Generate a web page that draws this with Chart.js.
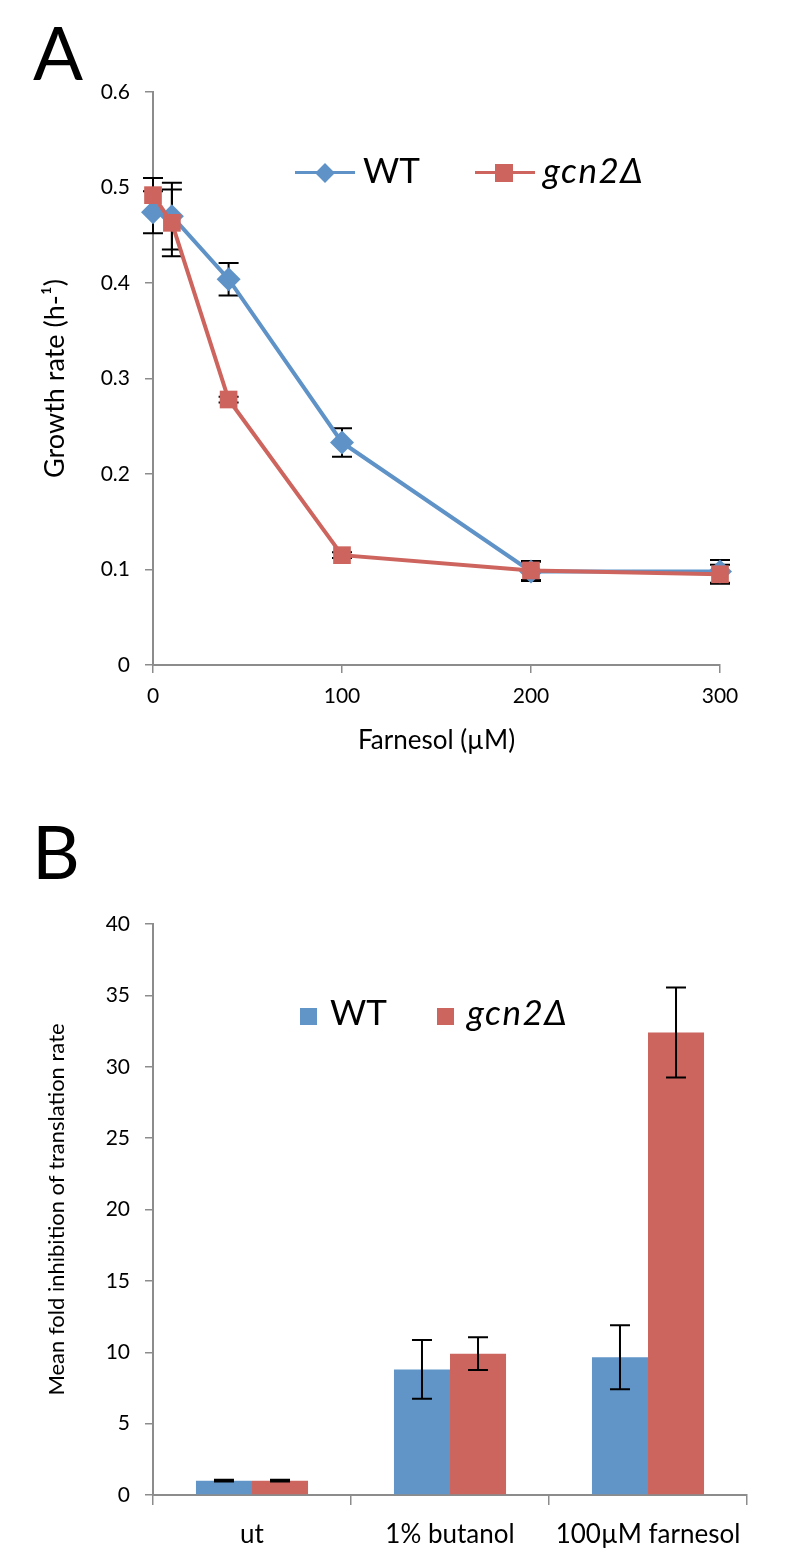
<!DOCTYPE html>
<html>
<head>
<meta charset="utf-8">
<script src="https://cdn.jsdelivr.net/npm/chart.js@4"></script>
<style>
  body { margin: 0; background: #fff; font-family: Lato, sans-serif; }
  #page { position: relative; width: 800px; height: 1567px; overflow: hidden; }
  .abs { position: absolute; line-height: 1; white-space: nowrap; color: #000; }
  .panel { font-size: 74px; }
  .leg { font-size: 35px; }
  .it { font-style: italic; letter-spacing: 1.5px; }
</style>
</head>
<body>
<div id="page">
  <canvas id="chartA" width="800" height="785" class="abs" style="left:0;top:0"></canvas>
  <canvas id="chartB" width="800" height="782" class="abs" style="left:0;top:785px"></canvas>

  <div class="abs panel" style="left:33px;top:15px">A</div>
  <div class="abs panel" style="left:32px;top:814px">B</div>

  <!-- legend A -->
  <div class="abs" style="left:295px;top:171px;width:60px;height:3px;background:#5f93c8"></div>
  <div class="abs" style="left:318px;top:166px;width:14px;height:14px;background:#5f93c8;transform:rotate(45deg)"></div>
  <div class="abs leg" style="left:363px;top:152px">WT</div>
  <div class="abs" style="left:475px;top:171px;width:60px;height:3px;background:#cd655e"></div>
  <div class="abs" style="left:495px;top:164px;width:18px;height:18px;background:#cd655e"></div>
  <div class="abs leg it" style="left:543px;top:152px">gcn2Δ</div>

  <!-- legend B -->
  <div class="abs" style="left:300px;top:1008px;width:17px;height:17px;background:#6195c8"></div>
  <div class="abs leg" style="left:330px;top:994px">WT</div>
  <div class="abs" style="left:437px;top:1008px;width:17px;height:17px;background:#cc655e"></div>
  <div class="abs leg it" style="left:467px;top:994px">gcn2Δ</div>
</div>
<script>
// panel A: growth rate vs farnesol
const farnesolDoses = [0, 10, 40, 100, 200, 300];
const growthWT = [0.474, 0.470, 0.404, 0.233, 0.098, 0.098];
const growthWTErr = [0.022, 0.035, 0.017, 0.015, 0.010, 0.012];
const growthGcn2 = [0.492, 0.463, 0.278, 0.115, 0.099, 0.095];
const growthGcn2Err = [0.018, 0.035, 0.003, 0.003, 0.010, 0.010];
const growthTicks = [0, 0.1, 0.2, 0.3, 0.4, 0.5, 0.6];

// panel B: translation inhibition
const treatments = ['ut', '1% butanol', '100µM farnesol'];
const inhibWT = [1.0, 8.8, 9.65];
const inhibWTErr = [0.06, 2.05, 2.25];
const inhibGcn2 = [1.0, 9.9, 32.4];
const inhibGcn2Err = [0.06, 1.15, 3.15];

const blue = '#5f93c8';
const red = '#cd655e';
const axisGrey = '#8c8c8c';

Chart.defaults.font.family = 'Lato, sans-serif';
Chart.defaults.color = '#000';

function drawErrors(chart) {
    const ctx = chart.ctx;
    const y = chart.scales.y;
    ctx.save();
    ctx.strokeStyle = '#000';
    ctx.lineWidth = 2;
    chart.data.datasets.forEach((ds, i) => {
        const meta = chart.getDatasetMeta(i);
        meta.data.forEach((el, j) => {
            const raw = ds.data[j];
            const v = typeof raw === 'object' ? raw.y : raw;
            const e = ds.errors[j];
            const top = y.getPixelForValue(v + e);
            const bot = y.getPixelForValue(v - e);
            const cap = 10;
            ctx.beginPath();
            ctx.moveTo(el.x, top); ctx.lineTo(el.x, bot);
            ctx.moveTo(el.x - cap, top); ctx.lineTo(el.x + cap, top);
            ctx.moveTo(el.x - cap, bot); ctx.lineTo(el.x + cap, bot);
            ctx.stroke();
        });
    });
    ctx.restore();
}

// error bars: behind the markers for the line chart, on top for the bars
const errorBars = {
    id: 'errorBars',
    beforeDatasetsDraw(chart, args, opts) {
        if (opts.behind) drawErrors(chart);
    },
    afterDatasetsDraw(chart, args, opts) {
        if (!opts.behind) drawErrors(chart);
    }
};

function toPoints(xs, ys) {
    return xs.map((x, i) => ({ x: x, y: ys[i] }));
}

const axisGrid = {
    drawOnChartArea: false,
    drawTicks: true,
    color: axisGrey,
    lineWidth: 1.5
};

new Chart(document.getElementById('chartA').getContext('2d'), {
    type: 'line',
    data: {
        datasets: [{
            label: 'WT',
            data: toPoints(farnesolDoses, growthWT),
            errors: growthWTErr,
            borderColor: blue,
            backgroundColor: blue,
            borderWidth: 4,
            pointStyle: 'rectRot',
            pointRadius: 12,
            pointBorderWidth: 0,
            clip: false,
            order: 1
        }, {
            label: 'gcn2Δ',
            data: toPoints(farnesolDoses, growthGcn2),
            errors: growthGcn2Err,
            borderColor: red,
            backgroundColor: red,
            borderWidth: 4,
            pointStyle: 'rect',
            pointRadius: 12.5,
            pointBorderWidth: 0,
            clip: false,
            order: 0
        }]
    },
    options: {
        responsive: false,
        animation: false,
        layout: { padding: { left: 0, right: 80, top: 92, bottom: 0 } },
        plugins: { legend: { display: false }, tooltip: { enabled: false }, errorBars: { behind: true } },
        scales: {
            x: {
                type: 'linear',
                min: 0,
                max: 300,
                afterFit: s => { s.height = 120; },
                ticks: { stepSize: 100, font: { size: 21 }, padding: 11, maxRotation: 0 },
                grid: Object.assign({ tickLength: 8 }, axisGrid),
                border: { color: axisGrey, width: 2 },
                title: { display: true, text: 'Farnesol (µM)', font: { size: 26 }, padding: { top: 0, bottom: 29 } }
            },
            y: {
                min: 0,
                max: 0.6,
                afterFit: s => { s.width = 153; },
                afterBuildTicks: s => { s.ticks = growthTicks.map(v => ({ value: v })); },
                ticks: { font: { size: 21 }, padding: 15 },
                grid: Object.assign({ tickLength: 8 }, axisGrid),
                border: { color: axisGrey, width: 2 },
                title: { display: true, text: 'Growth rate (h-¹)', font: { size: 27 }, padding: { top: 39, bottom: 0 } }
            }
        }
    },
    plugins: [errorBars]
});

new Chart(document.getElementById('chartB').getContext('2d'), {
    type: 'bar',
    data: {
        labels: treatments,
        datasets: [{
            label: 'WT',
            data: inhibWT,
            errors: inhibWTErr,
            backgroundColor: '#6195c8',
            categoryPercentage: 0.566,
            barPercentage: 1
        }, {
            label: 'gcn2Δ',
            data: inhibGcn2,
            errors: inhibGcn2Err,
            backgroundColor: '#cc655e',
            categoryPercentage: 0.566,
            barPercentage: 1
        }]
    },
    options: {
        responsive: false,
        animation: false,
        layout: { padding: { left: 0, right: 53, top: 139, bottom: 0 } },
        plugins: { legend: { display: false }, tooltip: { enabled: false }, errorBars: { behind: false } },
        scales: {
            x: {
                afterFit: s => { s.height = 72; },
                ticks: { font: { size: 26 }, padding: 14, maxRotation: 0 },
                grid: Object.assign({ tickLength: 10, offset: true }, axisGrid),
                border: { color: axisGrey, width: 2 }
            },
            y: {
                min: 0,
                max: 40,
                afterFit: s => { s.width = 153; },
                ticks: { stepSize: 5, font: { size: 21 }, padding: 15 },
                grid: Object.assign({ tickLength: 8 }, axisGrid),
                border: { color: axisGrey, width: 2 },
                title: { display: true, text: 'Mean fold inhibition of translation rate', font: { size: 22 }, padding: { top: 44, bottom: 0 } }
            }
        }
    },
    plugins: [errorBars]
});
</script>
</body>
</html>
